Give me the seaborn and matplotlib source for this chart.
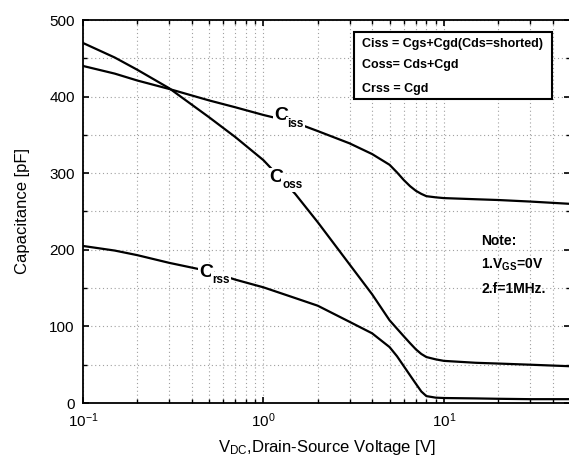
import numpy as np
import pandas as pd
import matplotlib
matplotlib.use("Agg")
import matplotlib.pyplot as plt
import matplotlib.ticker as mticker
from matplotlib.patches import Rectangle
import seaborn as sns

# Drain-source voltage sample points [V]
vds = [0.1, 0.15, 0.2, 0.3, 0.5, 0.7, 1.0, 1.5, 2, 3, 4, 5, 5.5, 6, 6.5, 7, 7.5, 8, 9, 10, 15, 20, 30, 50]

# Capacitances [pF]
ciss = [440, 430, 421, 410, 395, 386, 376, 366, 355, 339, 325, 311, 301, 291, 283, 277, 273, 270, 268.5, 267.5, 266, 265, 263, 260]
coss = [470, 451, 435, 411, 373, 347, 317, 273, 236, 181, 142, 108, 97, 87, 78, 70, 64, 60, 57, 55, 52.5, 51.5, 50, 48]
crss = [205, 199, 193, 183, 172, 161, 151, 137, 127, 106, 91, 73, 61, 48, 36, 25, 15, 9, 7, 6.5, 6, 5.5, 5, 5]

y_ticks = [0, 100, 200, 300, 400, 500]

sns.set_style("ticks")
plt.rcParams["font.family"] = ["Liberation Sans", "DejaVu Sans"]
plt.rcParams["text.color"] = "black"
plt.rcParams["axes.labelcolor"] = "black"
plt.rcParams["mathtext.fontset"] = "custom"
plt.rcParams["mathtext.rm"] = "Liberation Sans"
plt.rcParams["mathtext.it"] = "Liberation Sans"
plt.rcParams["mathtext.bf"] = "Liberation Sans:bold"

df = pd.concat([
    pd.DataFrame({"V": vds, "C": ciss, "curve": "Ciss"}),
    pd.DataFrame({"V": vds, "C": coss, "curve": "Coss"}),
    pd.DataFrame({"V": vds, "C": crss, "curve": "Crss"}),
])

W, H = 569, 461
fig = plt.figure(figsize=(W / 100, H / 100), dpi=100)
ax = fig.add_axes([83 / W, 1 - 403 / H, 487 / W, 383 / H])

sns.lineplot(data=df, x="V", y="C", units="curve", estimator=None,
             color="black", lw=1.6, legend=False, ax=ax, zorder=3)

ax.set_xscale("log")
ax.set_xlim(0.1, 50)
ax.set_ylim(0, 500)
ax.set_yticks(y_ticks)
ax.yaxis.set_minor_locator(mticker.MultipleLocator(50))
ax.xaxis.set_minor_locator(mticker.LogLocator(base=10, subs=np.arange(2, 10)))
ax.xaxis.set_minor_formatter(mticker.NullFormatter())

ax.grid(True, which="both", color="#a0a0a0", linestyle=(0, (1, 2.5)), linewidth=0.8)
ax.tick_params(which="both", direction="in", top=True, right=True, labelsize=11,
               colors="black", labelcolor="black")
ax.tick_params(which="major", length=4, width=1.2, pad=6)
ax.tick_params(which="minor", length=3, width=1.0)
for s in ax.spines.values():
    s.set_linewidth(1.3)
    s.set_color("black")

ax.set_xlabel(r"V$_{\rm DC}$,Drain-Source Voltage [V]", fontsize=12, labelpad=6)
ax.set_ylabel("Capacitance [pF]", fontsize=12, labelpad=14)

# Curve labels
box = dict(facecolor="white", edgecolor="none", pad=1.0)
for (x0, y0, main), (x1, y1, sub) in [
    ((1.15, 369, "C"), (1.36, 360, "iss")),
    ((1.08, 288, "C"), (1.27, 281, "oss")),
    ((0.44, 164, "C"), (0.52, 157, "rss")),
]:
    ax.text(x0, y0, main, fontsize=14, fontweight="bold", ha="left", va="baseline", bbox=box, zorder=4)
    ax.text(x1, y1, sub, fontsize=8.5, fontweight="bold", ha="left", va="baseline", bbox=box, zorder=4)

# Capacitance definitions box
def fx(px):
    return px / W

def fy(py):
    return 1 - py / H

fig.patches.append(Rectangle((fx(354), fy(99)), fx(552) - fx(354), fy(32) - fy(99),
                             transform=fig.transFigure, facecolor="white",
                             edgecolor="black", linewidth=1.5, zorder=5))
for py, s in [(47, "Ciss = Cgs+Cgd(Cds=shorted)"), (68, "Coss= Cds+Cgd"), (92, "Crss = Cgd")]:
    fig.text(fx(362), fy(py), s, fontsize=9, fontweight="bold", ha="left", va="baseline", zorder=6)

# Test conditions
for py, s in [(245, "Note:"), (269, r"1.V$_{\mathbf{GS}}$=0V"), (293, "2.f=1MHz.")]:
    fig.text(fx(481), fy(py), s, fontsize=10, fontweight="bold", ha="left", va="baseline", zorder=6)

fig.savefig("out.png", dpi=100)
